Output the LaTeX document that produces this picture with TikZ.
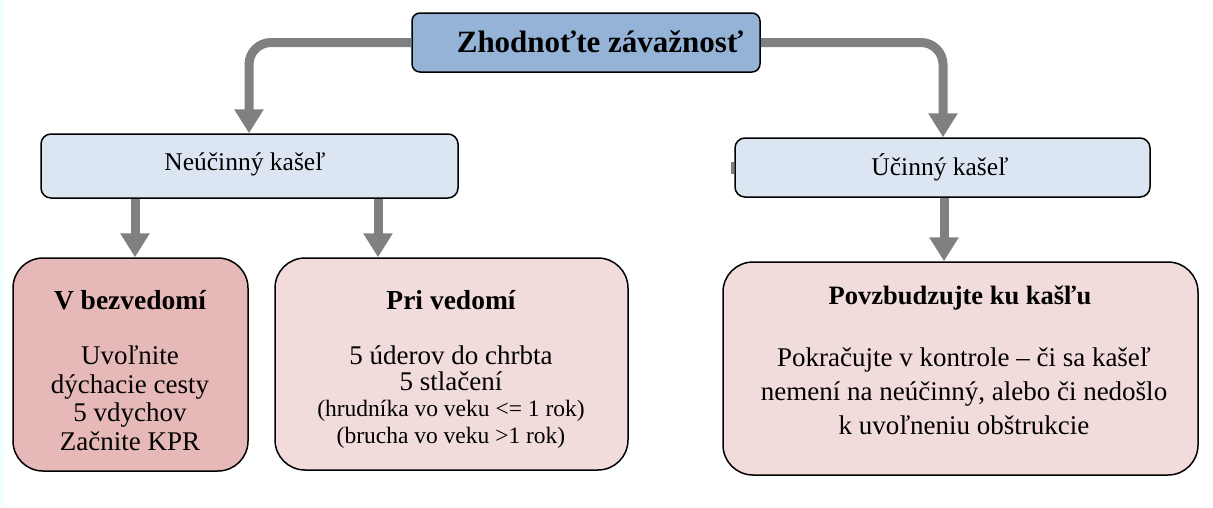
\documentclass[tikz,border=0pt]{standalone}
\usepackage{fontspec}
\setmainfont{Liberation Serif}
\usetikzlibrary{arrows.meta,calc}
\definecolor{topblue}{HTML}{95B3D7}
\definecolor{lightblue}{HTML}{DCE6F2}
\definecolor{darkpink}{HTML}{E6B9B8}
\definecolor{lightpink}{HTML}{F2DCDB}
\definecolor{arrowgray}{HTML}{808080}
\definecolor{stripcyan}{HTML}{F0FFFF}
\tikzset{
  box/.style={draw=black, line width=1.5pt, inner sep=0pt},
  toplevel/.style={box, fill=topblue, rounded corners=8pt},
  midlevel/.style={box, fill=lightblue, rounded corners=10pt},
  leaf/.style={box, rounded corners=30pt},
  flow/.style={draw=arrowgray, line width=9pt, rounded corners=22pt,
    -{Triangle[width=28pt,length=24pt]}},
  txt/.style={inner sep=0pt, align=center, font=\rmfamily\fontsize{27}{28.5}\selectfont},
  titletxt/.style={inner sep=0pt, align=center, font=\rmfamily\bfseries\fontsize{27.5}{30}\selectfont},
  smalltxt/.style={inner sep=0pt, align=center, font=\rmfamily\fontsize{23.5}{27}\selectfont},
}
\begin{document}
\begin{tikzpicture}[x=1pt,y=-1pt]
\useasboundingbox (0,0) rectangle (1213,507);
\fill[stripcyan] (0,0) rectangle (5,507);
% boxes
\node[toplevel, minimum width=348pt, minimum height=59pt] (top) at (586,42.5) {};
\node[midlevel, minimum width=417pt, minimum height=64pt] (neu) at (249.5,166) {};
\node[midlevel, minimum width=415pt, minimum height=59pt] (uc) at (942.5,167.5) {};
\node[leaf, fill=darkpink, minimum width=235pt, minimum height=213pt] (bez) at (130.5,364.5) {};
\node[leaf, fill=lightpink, minimum width=353pt, minimum height=212pt] (pri) at (451.5,364) {};
\node[leaf, fill=lightpink, minimum width=475pt, minimum height=213pt] (pov) at (960.5,368.5) {};
% texts
\node[titletxt, font=\rmfamily\bfseries\fontsize{31}{34}\selectfont] (toptxt) at (600,42) {Zhodnoťte závažnosť};
\node[txt, font=\rmfamily\fontsize{25.5}{28}\selectfont] (neutxt) at (245,164) {Neúčinný kašeľ};
\node[txt, font=\rmfamily\fontsize{25.5}{28}\selectfont] (uctxt) at (940,167) {Účinný kašeľ};
\node[titletxt] (beztitle) at (130,300) {V bezvedomí};
\node[txt] (bezbody) at (130,398) {Uvoľnite\\dýchacie cesty\\5 vdychov\\Začnite KPR};
\node[titletxt] (prititle) at (451,300) {Pri vedomí};
\node[txt, font=\rmfamily\fontsize{27}{26}\selectfont] (pribody) at (451,368) {5 úderov do chrbta\\5 stlačení};
\node[smalltxt] (prismall) at (451,424) {(hrudníka vo veku <= 1 rok)\\(brucha vo veku >1 rok)};
\node[titletxt, font=\rmfamily\bfseries\fontsize{26.5}{30}\selectfont] (povtitle) at (960,298) {Povzbudzujte ku kašľu};
\node[txt, font=\rmfamily\fontsize{27}{34}\selectfont] (povbody) at (964,391) {Pokračujte v kontrole – či sa kašeľ\\nemení na neúčinný, alebo či nedošlo\\k uvoľneniu obštrukcie};
% connectors
\draw[flow] (top.west) -| (neu.north -| 249,0);
\draw[flow] (top.east) -| (uc.north -| 943,0);
\draw[flow] (neu.south -| 135,0) -- (bez.north -| 135,0);
\draw[flow] (neu.south -| 378,0) -- (pri.north -| 378,0);
\draw[flow] (uc.south -| 944,0) -- (pov.north -| 944,0);
\coordinate (stubA) at ($(uc.west)+(-2,-6)$);
\coordinate (stubB) at ($(uc.west)+(-2,6)$);
\draw[arrowgray, line width=3pt] (stubA) -- (stubB);
\end{tikzpicture}
\end{document}
